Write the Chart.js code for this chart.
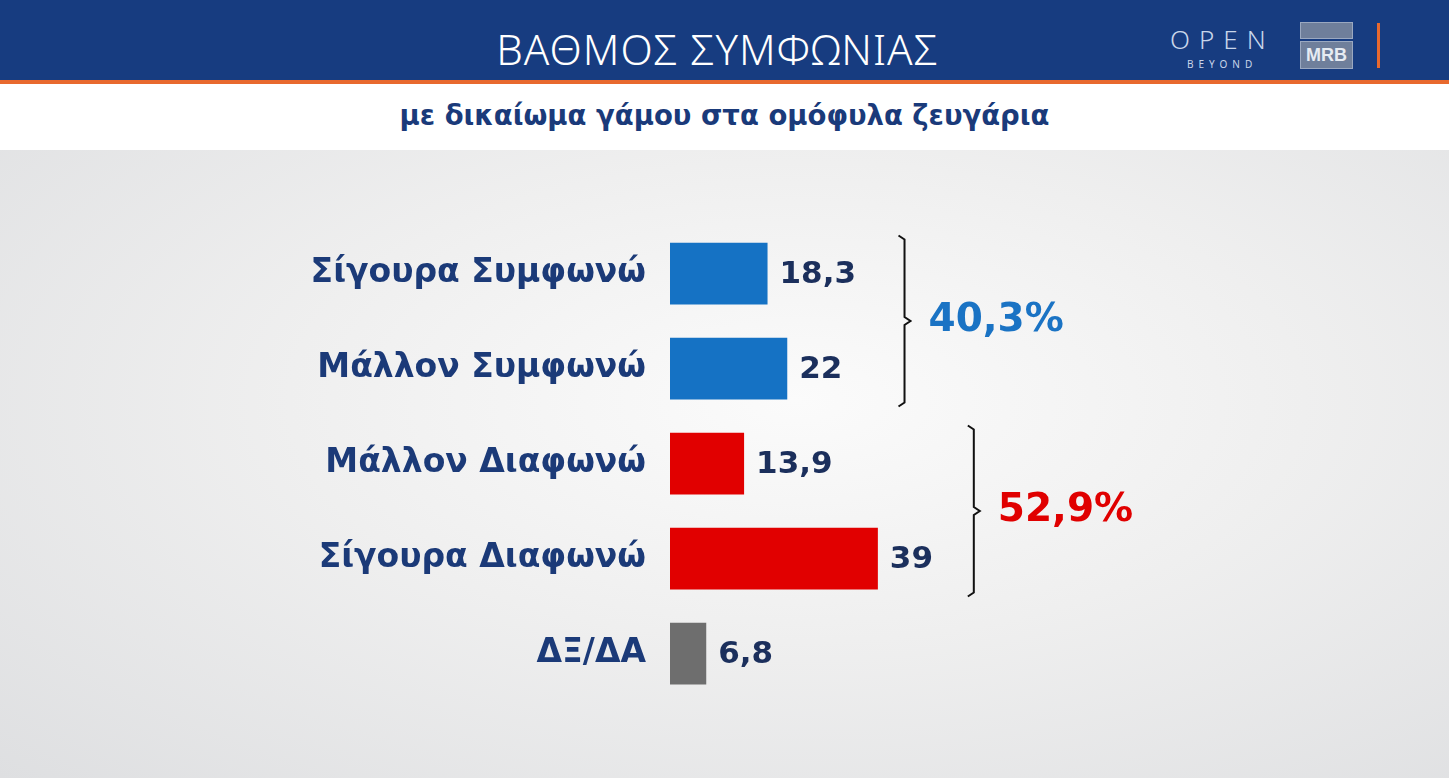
<!DOCTYPE html>
<html>
<head>
<meta charset="utf-8">
<script src="https://cdn.jsdelivr.net/npm/chart.js@4"></script>
<style>
  body { margin: 0; width: 1449px; height: 778px; overflow: hidden; font-family: "Noto Sans", sans-serif; position: relative; }
  #header { position: absolute; left: 0; top: 0; width: 1449px; height: 80px; background: #173c80; border-bottom: 4px solid #e8692e; }
  #title { position: absolute; left: 0; width: 1435px; top: 20px; text-align: center; color: #fff; font-size: 42px; font-weight: 300; letter-spacing: 1px; }
  #open { position: absolute; left: 1170px; top: 26px; color: #c9d6ea; font-size: 26px; letter-spacing: 9px; font-weight: 300; line-height: 26px; }
  #beyond { position: absolute; left: 1187px; top: 57px; color: #c9d6ea; font-size: 10px; letter-spacing: 5px; }
  #mrb { position: absolute; left: 1300px; top: 22px; width: 53px; height: 46px; }
  #mrb .a { height: 15px; background: #6f7f9b; border: 1px solid #9aa8c0; }
  #mrb .b { margin-top: 2px; height: 26px; background: #6f7f9b; border: 1px solid #9aa8c0; color: #e6ebf2; font: bold 18px "Liberation Sans", sans-serif; text-align: center; line-height: 27px; }
  #bar { position: absolute; left: 1377px; top: 23px; width: 3px; height: 45px; background: #e8692e; }
  #sub { position: absolute; left: 0; top: 84px; width: 1449px; height: 66px; background: #fff; text-align: center; color: #1a3a7a; font: bold 27.5px "DejaVu Sans", sans-serif; line-height: 62px; }
  #bg { position: absolute; left: 0; top: 150px; width: 1449px; height: 628px;
        background: radial-gradient(ellipse at 55% 40%, #fbfbfb 0%, #efefef 45%, #dedfe1 100%); }
  #wrap { position: absolute; left: 0; top: 150px; width: 1449px; height: 628px; }
</style>
</head>
<body>
<div id="header">
  <div id="title">ΒΑΘΜΟΣ ΣΥΜΦΩΝΙΑΣ</div>
  <div id="open">OPEN</div>
  <div id="beyond">BEYOND</div>
  <div id="mrb"><div class="a"></div><div class="b">MRB</div></div>
  <div id="bar"></div>
</div>
<div id="sub">με δικαίωμα γάμου στα ομόφυλα ζευγάρια</div>
<div id="bg"></div>
<div id="wrap"><canvas id="chart"></canvas></div>
<script>
const categories = ["Σίγουρα Συμφωνώ", "Μάλλον Συμφωνώ", "Μάλλον Διαφωνώ", "Σίγουρα Διαφωνώ", "ΔΞ/ΔΑ"];
const values = [18.3, 22, 13.9, 39, 6.8];
const valueLabels = ["18,3", "22", "13,9", "39", "6,8"];
const barColors = ["#1572c4", "#1572c4", "#e10000", "#e10000", "#6e6e6e"];
const groupLabels = ["40,3%", "52,9%"];
const groupRanges = [[0, 1], [2, 3]];
const groupColors = ["#1a73c4", "#e00000"];
const groupX = [44, 57];

const annotations = {
    id: "annotations",
    afterDatasetsDraw(chart) {
        const ctx = chart.ctx;
        const x = chart.scales.x;
        const meta = chart.getDatasetMeta(0);
        ctx.save();
        ctx.font = "bold 31px 'DejaVu Sans'";
        ctx.fillStyle = "#1b2f5c";
        ctx.textBaseline = "middle";
        meta.data.forEach((bar, i) => {
            ctx.fillText(valueLabels[i], bar.x + 12, bar.y + 1);
        });
        groupRanges.forEach((r, g) => {
            const top = meta.data[r[0]].y - 38;
            const bot = meta.data[r[1]].y + 38;
            const bx = x.getPixelForValue(groupX[g]);
            const mid = (top + bot) / 2;
            ctx.strokeStyle = "#111";
            ctx.lineWidth = 2;
            ctx.beginPath();
            ctx.moveTo(bx - 6, top);
            ctx.lineTo(bx, top + 4);
            ctx.lineTo(bx, mid - 4);
            ctx.lineTo(bx + 6, mid);
            ctx.lineTo(bx, mid + 4);
            ctx.lineTo(bx, bot - 4);
            ctx.lineTo(bx - 6, bot);
            ctx.stroke();
            ctx.font = "bold 39px 'DejaVu Sans'";
            ctx.fillStyle = groupColors[g];
            ctx.fillText(groupLabels[g], bx + 24, mid);
        });
        ctx.restore();
    }
};

new Chart(document.getElementById("chart"), {
    type: "bar",
    data: {
        labels: categories,
        datasets: [{
            data: values,
            backgroundColor: barColors,
            categoryPercentage: 0.65,
            barPercentage: 1
        }]
    },
    options: {
        indexAxis: "y",
        responsive: true,
        maintainAspectRatio: false,
        animation: false,
        layout: { padding: { top: 76, bottom: 77, right: 246, left: 0 } },
        plugins: { legend: { display: false }, tooltip: { enabled: false } },
        scales: {
            x: { display: false, min: 0, max: 100 },
            y: {
                afterFit(scale) { scale.width = 670; },
                grid: { display: false },
                border: { display: false },
                ticks: {
                    color: "#1b3a78",
                    padding: 16,
                    font: { family: "DejaVu Sans", size: 33, weight: "bold" }
                }
            }
        }
    },
    plugins: [annotations]
});
</script>
</body>
</html>
